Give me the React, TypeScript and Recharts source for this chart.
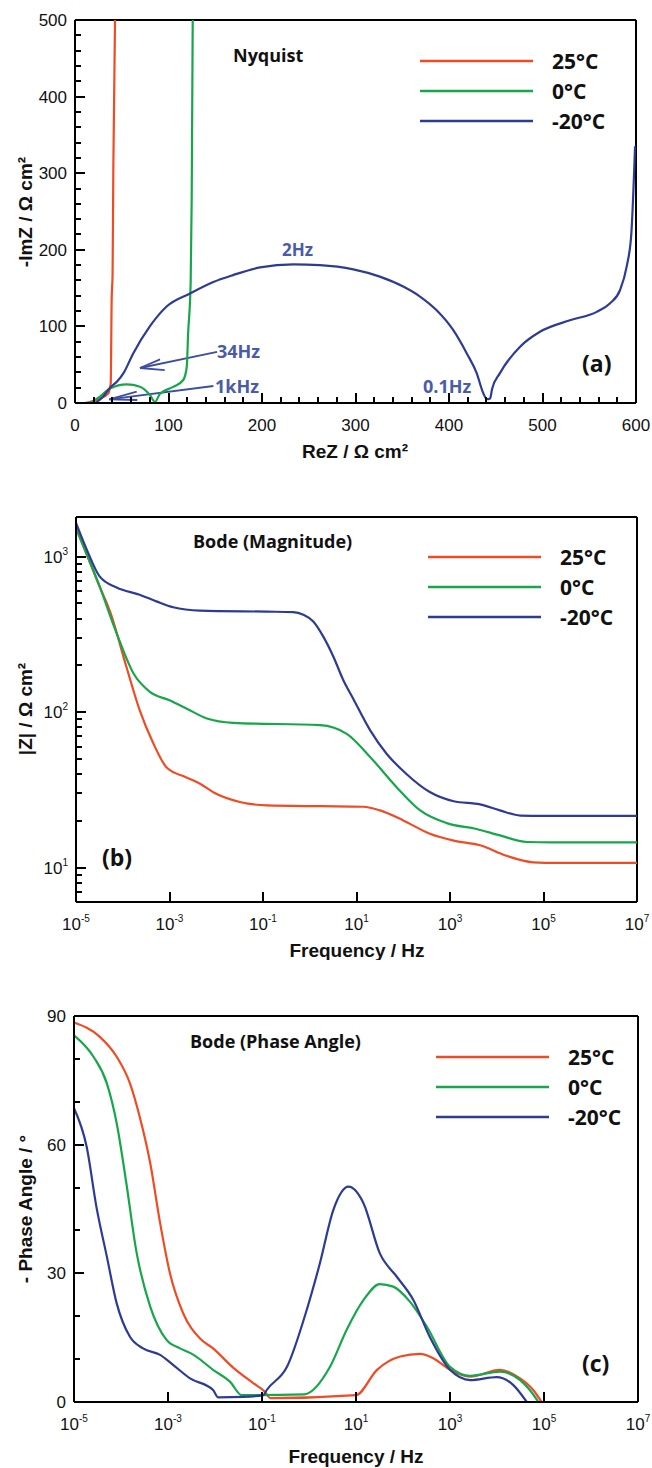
import React from "react";
import {
  LineChart,
  Line,
  XAxis,
  YAxis,
  ReferenceLine,
  Legend,
} from "recharts";

const RED = "#ef4b24";
const GREEN = "#17a74a";
const BLUE = "#2e3b93";
const NOTE = "#4a5ba8";
const INK = "#111111";
const TICK_FONT = "'Liberation Sans', Arial, sans-serif";
const NOTE_FONT = "'Open Sans', sans-serif";

const seriesNames = ["25°C", "0°C", "-20°C"];

// Nyquist: ReZ vs -ImZ, Ω cm²
const nyq25 = [
  { re: 10.5, im: 0 }, { re: 26.7, im: 6 }, { re: 35.6, im: 12.7 }, { re: 38.2, im: 25.7 },
  { re: 39.2, im: 134 }, { re: 40.2, im: 169 }, { re: 41, im: 308 }, { re: 42.8, im: 500 },
];
const nyq0 = [
  { re: 16, im: 0 }, { re: 26.7, im: 8.3 }, { re: 37.4, im: 19 }, { re: 55.3, im: 24.4 },
  { re: 69.5, im: 21.3 }, { re: 80.2, im: 10.4 }, { re: 85.5, im: 1.5 }, { re: 90.9, im: 12 },
  { re: 105, im: 21 }, { re: 115.8, im: 30 }, { re: 119.5, im: 47 }, { re: 121, im: 91 },
  { re: 123.7, im: 157 }, { re: 124.8, im: 265 }, { re: 125.9, im: 500 },
];
const nyqM20 = [
  { re: 22, im: 0 }, { re: 30, im: 8 }, { re: 37.4, im: 20 }, { re: 45, im: 28 },
  { re: 51.7, im: 38.7 }, { re: 62.4, im: 65 }, { re: 80, im: 100 }, { re: 98, im: 126 },
  { re: 123, im: 143 }, { re: 148, im: 158 }, { re: 169, im: 167 }, { re: 198, im: 177 },
  { re: 233.5, im: 181 }, { re: 262, im: 180 }, { re: 297.7, im: 174.5 }, { re: 326, im: 165 },
  { re: 351, im: 152 }, { re: 369, im: 139 }, { re: 386.8, im: 121 }, { re: 404.6, im: 95 },
  { re: 418.9, im: 65 }, { re: 429.6, im: 39 }, { re: 436.7, im: 12.7 }, { re: 440.5, im: 5 },
  { re: 444, im: 6 }, { re: 446, im: 18 }, { re: 454.5, im: 39 }, { re: 476, im: 73.5 },
  { re: 497.3, im: 93 }, { re: 529.4, im: 108 }, { re: 558, im: 119 }, { re: 572, im: 130 },
  { re: 583, im: 147.5 }, { re: 590, im: 178 }, { re: 595, im: 221 }, { re: 599, im: 335 },
];

// Bode magnitude: frequency (Hz) vs |Z| (Ω cm²)
const mag25 = [
  { f: 1e-5, z: 1530 }, { f: 3.2e-5, z: 643 }, { f: 5.4e-5, z: 440 }, { f: 1.2e-4, z: 195 },
  { f: 2.3e-4, z: 103 }, { f: 4.5e-4, z: 63 }, { f: 8.7e-4, z: 44 }, { f: 2.3e-3, z: 38 },
  { f: 4.5e-3, z: 34.6 }, { f: 0.01, z: 29.8 }, { f: 0.032, z: 26.4 }, { f: 0.12, z: 25.1 },
  { f: 1.66, z: 24.8 }, { f: 14, z: 24.6 }, { f: 32, z: 23.3 }, { f: 100, z: 20.1 },
  { f: 370, z: 16.5 }, { f: 1200, z: 14.9 }, { f: 4400, z: 13.9 }, { f: 16000, z: 11.9 },
  { f: 60000, z: 10.8 }, { f: 2e5, z: 10.7 }, { f: 1e7, z: 10.7 },
];
const mag0 = [
  { f: 1e-5, z: 1530 }, { f: 3.2e-5, z: 643 }, { f: 7.4e-5, z: 321 }, { f: 1.7e-4, z: 177 },
  { f: 3.8e-4, z: 135 }, { f: 1e-3, z: 119 }, { f: 2.3e-3, z: 105.5 }, { f: 6.3e-3, z: 91 },
  { f: 0.023, z: 85.3 }, { f: 1.66, z: 82.4 }, { f: 6.2, z: 72.4 }, { f: 19.5, z: 51.5 },
  { f: 72, z: 32.9 }, { f: 230, z: 23.3 }, { f: 850, z: 19.3 }, { f: 3700, z: 17.7 },
  { f: 11700, z: 16.1 }, { f: 44000, z: 14.6 }, { f: 1.6e5, z: 14.5 }, { f: 1e7, z: 14.5 },
];
const magM20 = [
  { f: 1e-5, z: 1650 }, { f: 1.7e-5, z: 1110 }, { f: 3.2e-5, z: 746 }, { f: 7.4e-5, z: 633 },
  { f: 2.3e-4, z: 569 }, { f: 5.4e-4, z: 514 }, { f: 1.2e-3, z: 473 }, { f: 4.5e-3, z: 450 },
  { f: 0.12, z: 443 }, { f: 0.44, z: 440 }, { f: 0.73, z: 423 }, { f: 1.19, z: 383 },
  { f: 1.95, z: 306 }, { f: 3.19, z: 228 }, { f: 5.2, z: 161 }, { f: 8.5, z: 122 },
  { f: 19.5, z: 76.6 }, { f: 44, z: 54 }, { f: 117, z: 40 }, { f: 370, z: 30.6 },
  { f: 1200, z: 26.7 }, { f: 4400, z: 25.5 }, { f: 11700, z: 23.3 }, { f: 32000, z: 21.6 },
  { f: 1e5, z: 21.5 }, { f: 1e7, z: 21.5 },
];

// Bode phase: frequency (Hz) vs -phase (°)
const ph25 = [
  { f: 1e-5, p: 88.5 }, { f: 3.5e-5, p: 85.2 }, { f: 8.1e-5, p: 80.5 }, { f: 1.55e-4, p: 74.3 },
  { f: 2.5e-4, p: 66.5 }, { f: 4.2e-4, p: 55.6 }, { f: 6.8e-4, p: 41.7 }, { f: 1.1e-3, p: 30 },
  { f: 2.1e-3, p: 20.7 }, { f: 4.8e-3, p: 14.8 }, { f: 9.1e-3, p: 12.5 }, { f: 0.025, p: 7.9 },
  { f: 0.065, p: 4.4 }, { f: 0.115, p: 2.4 }, { f: 0.15, p: 0.9 }, { f: 10, p: 1.6 },
  { f: 28, p: 7.5 }, { f: 87, p: 10.6 }, { f: 230, p: 11.2 }, { f: 440, p: 10.2 },
  { f: 1000, p: 7.5 }, { f: 2700, p: 5.9 }, { f: 11500, p: 7.5 }, { f: 31000, p: 5.5 },
  { f: 59000, p: 2.8 }, { f: 89000, p: 0 },
];
const ph0 = [
  { f: 1e-5, p: 85.5 }, { f: 2.6e-5, p: 80.5 }, { f: 5e-5, p: 74.3 }, { f: 8.1e-5, p: 65 },
  { f: 1.3e-4, p: 51 }, { f: 2.1e-4, p: 35.4 }, { f: 4.2e-4, p: 22.2 }, { f: 9.3e-4, p: 14.5 },
  { f: 1.8e-3, p: 12.5 }, { f: 3.5e-3, p: 11 }, { f: 9.1e-3, p: 7.5 }, { f: 0.021, p: 4.7 },
  { f: 0.037, p: 1.6 }, { f: 0.8, p: 1.8 }, { f: 2.8, p: 8.2 }, { f: 6.3, p: 16.8 },
  { f: 14.5, p: 23.8 }, { f: 32, p: 27.5 }, { f: 62, p: 26.9 }, { f: 140, p: 23.4 },
  { f: 320, p: 17.6 }, { f: 1000, p: 8.2 }, { f: 2700, p: 6.1 }, { f: 11500, p: 7.1 },
  { f: 31000, p: 5.1 }, { f: 50000, p: 2.8 }, { f: 76000, p: 0 },
];
const phM20 = [
  { f: 1e-5, p: 68.5 }, { f: 1.86e-5, p: 59.5 }, { f: 3e-5, p: 45.5 }, { f: 5e-5, p: 33.9 },
  { f: 8.1e-5, p: 23 }, { f: 1.55e-4, p: 15.2 }, { f: 2.95e-4, p: 12.5 }, { f: 6.8e-4, p: 11 },
  { f: 1.3e-3, p: 8.6 }, { f: 2.95e-3, p: 5.5 }, { f: 9.1e-3, p: 2.8 }, { f: 0.0117, p: 1.1 },
  { f: 0.04, p: 1.2 }, { f: 0.107, p: 1.6 }, { f: 0.126, p: 2.8 }, { f: 0.34, p: 8.2 },
  { f: 0.89, p: 21.4 }, { f: 1.7, p: 32.3 }, { f: 3.3, p: 44.8 }, { f: 6.9, p: 50.2 },
  { f: 14.5, p: 46.3 }, { f: 32, p: 34.7 }, { f: 74, p: 29.2 }, { f: 166, p: 23.8 },
  { f: 370, p: 15.2 }, { f: 1000, p: 7.5 }, { f: 2700, p: 5.1 }, { f: 9800, p: 5.8 },
  { f: 22000, p: 4 }, { f: 43000, p: 0 },
];

// ticks
const nyqXMajor = [0, 100, 200, 300, 400, 500, 600];
const nyqYMajor = [0, 100, 200, 300, 400, 500];
const freqTicks = [1e-5, 1e-3, 1e-1, 1e1, 1e3, 1e5, 1e7];
const magMajor = [10, 100, 1000];
const phaseMajor = [0, 30, 60, 90];

const withMinor = (majors: number[], parts: number) => {
  const out: number[] = [];
  majors.forEach((m, i) => {
    out.push(m);
    if (i < majors.length - 1) {
      const step = (majors[i + 1] - m) / parts;
      for (let k = 1; k < parts; k++) out.push(m + k * step);
    }
  });
  return out;
};
const magTicks = [1, 10, 100, 1000]
  .flatMap((d) => [1, 2, 3, 4, 5, 6, 7, 8, 9].map((m) => m * d))
  .filter((v) => v >= 6 && v <= 1800);

const pow10 = (v: number) => {
  const e = Math.round(Math.log10(v));
  return (
    <>
      10
      <tspan dy={-8} fontSize={10}>
        {e}
      </tspan>
    </>
  );
};
const plain = (v: number) => String(v);

const isMajor = (majors: number[], v: number) =>
  majors.some((m) => Math.abs(m - v) < 1e-9 * Math.max(1, Math.abs(m)));

const bottomLabel = (fmt: (v: number) => React.ReactNode) => (p: any) => (
  <text x={p.x} y={p.y + 28} textAnchor="middle" fontSize={17} fontFamily={TICK_FONT} fill={INK}>
    {fmt(p.payload.value)}
  </text>
);
const leftLabel = (fmt: (v: number) => React.ReactNode) => (p: any) => (
  <text x={p.x - 8} y={p.y + 6} textAnchor="end" fontSize={17} fontFamily={TICK_FONT} fill={INK}>
    {fmt(p.payload.value)}
  </text>
);

// plot boxes (panel-local px) shared by chart margins and the tick overlay
type Box = { left: number; right: number; top: number; bottom: number; h: number };
const boxA: Box = { left: 75, right: 636, top: 20, bottom: 403, h: 470 };
const boxB: Box = { left: 76, right: 637, top: 27, bottom: 412, h: 470 };
const boxC: Box = { left: 74, right: 638, top: 26, bottom: 412, h: 478 };

const lin = (d0: number, d1: number, r0: number, r1: number) => (v: number) =>
  r0 + ((v - d0) / (d1 - d0)) * (r1 - r0);
const logm = (d0: number, d1: number, r0: number, r1: number) => (v: number) =>
  r0 + ((Math.log10(v) - Math.log10(d0)) / (Math.log10(d1) - Math.log10(d0))) * (r1 - r0);

// inward tick marks along the bottom and left axes, as filled rects
const TickMarks = ({
  box, xs, xMaj, xMap, ys, yMaj, yMap,
}: {
  box: Box; xs: number[]; xMaj: number[]; xMap: (v: number) => number;
  ys: number[]; yMaj: number[]; yMap: (v: number) => number;
}) => (
  <g fill="#000" shapeRendering="crispEdges">
    {xs.map((v) => {
      const px = Math.round(xMap(v));
      const len = isMajor(xMaj, v) ? 10 : 6;
      return <rect key={`x${v}`} x={px - 1} y={box.bottom - len} width={2} height={len} />;
    })}
    {ys.map((v) => {
      const py = Math.round(yMap(v));
      const len = isMajor(yMaj, v) ? 10 : 6;
      return <rect key={`y${v}`} x={box.left} y={py - 1} width={len} height={2} />;
    })}
  </g>
);

const LegendBox = ({ payload }: any) => {
  const rows = [...(payload ?? [])].sort(
    (a: any, b: any) => seriesNames.indexOf(a.value) - seriesNames.indexOf(b.value)
  );
  return (
    <svg width={230} height={95}>
      {rows.map((e: any, i: number) => (
        <g key={i}>
          <line x1={0} x2={113} y1={15 + i * 30} y2={15 + i * 30} stroke={e.color} strokeWidth={2.5} />
          <text x={132} y={23 + i * 30} fontSize={21} fontWeight={700} fontFamily={NOTE_FONT} fill={INK}>
            {e.value}
          </text>
        </g>
      ))}
    </svg>
  );
};

const Overlay = ({ h, children }: { h: number; children: React.ReactNode }) => (
  <svg
    width={652}
    height={h}
    style={{ position: "absolute", left: 0, top: 0, pointerEvents: "none", zIndex: 2 }}
  >
    {children}
  </svg>
);

const YTitle = ({ x, y, text }: { x: number; y: number; text: string }) => (
  <text
    x={x}
    y={y}
    transform={`rotate(-90 ${x} ${y})`}
    textAnchor="middle"
    fontSize={19}
    fontWeight={700}
    fontFamily={TICK_FONT}
    fill={INK}
  >
    {text}
  </text>
);

const XTitle = ({ x, y, text }: { x: number; y: number; text: string }) => (
  <text x={x} y={y} textAnchor="middle" fontSize={19} fontWeight={700} fontFamily={TICK_FONT} fill={INK}>
    {text}
  </text>
);

const Note = ({ x, y, text, size = 18, color = NOTE }: any) => (
  <text x={x} y={y} fontSize={size} fontWeight={700} fontFamily={NOTE_FONT} fill={color}>
    {text}
  </text>
);

// arrows in data units (ReZ, -ImZ)
const arrow34 = [
  [{ x: 152, y: 66.6 }, { x: 69.5, y: 45.7 }],
  [{ x: 69.5, y: 45.7 }, { x: 91, y: 57 }],
  [{ x: 69.5, y: 45.7 }, { x: 96, y: 43 }],
];
const arrow1k = [
  [{ x: 148, y: 22.2 }, { x: 36.7, y: 4.8 }],
  [{ x: 36.7, y: 4.8 }, { x: 66, y: 14.8 }],
  [{ x: 36.7, y: 4.8 }, { x: 66.6, y: 3.9 }],
];

const lineProps = {
  type: "monotone" as const,
  strokeWidth: 2.2,
  dot: false,
  activeDot: false,
  isAnimationActive: false,
};

const axisCommon = {
  type: "number" as const,
  interval: 0 as const,
  axisLine: { stroke: "#000", strokeWidth: 2 },
  tickLine: false,
  tickSize: 0,
  tickMargin: 0,
};

const marginOf = (b: Box) => ({ top: b.top, right: 652 - b.right, left: 0, bottom: 0 });

const NyquistPanel = () => (
  <div style={{ position: "absolute", left: 0, top: 0, width: 652, height: boxA.h }}>
    <LineChart width={652} height={boxA.h} margin={marginOf(boxA)}>
      <XAxis
        {...axisCommon}
        dataKey="re"
        domain={[0, 600]}
        ticks={nyqXMajor}
        height={boxA.h - boxA.bottom}
        tick={bottomLabel(plain)}
      />
      <YAxis
        {...axisCommon}
        dataKey="im"
        domain={[0, 500]}
        ticks={nyqYMajor}
        width={boxA.left}
        tick={leftLabel(plain)}
      />
      <ReferenceLine x={600} stroke="#000" strokeWidth={2} ifOverflow="visible" />
      <ReferenceLine y={500} stroke="#000" strokeWidth={2} ifOverflow="visible" />
      {[...arrow34, ...arrow1k].map((s, i) => (
        <ReferenceLine key={i} segment={s} stroke="#3d4ea2" strokeWidth={1.8} ifOverflow="visible" />
      ))}
      <Line {...lineProps} data={nyq25} dataKey="im" name={seriesNames[0]} stroke={RED} />
      <Line {...lineProps} data={nyq0} dataKey="im" name={seriesNames[1]} stroke={GREEN} />
      <Line {...lineProps} data={nyqM20} dataKey="im" name={seriesNames[2]} stroke={BLUE} />
      <Legend
        layout="horizontal"
        verticalAlign="middle"
        align="center"
        content={<LegendBox />}
        wrapperStyle={{ position: "absolute", left: 420, top: 46, width: 230, height: 95 }}
      />
    </LineChart>
    <Overlay h={boxA.h}>
      <TickMarks
        box={boxA}
        xs={withMinor(nyqXMajor, 5)}
        xMaj={nyqXMajor}
        xMap={lin(0, 600, boxA.left, boxA.right)}
        ys={withMinor(nyqYMajor, 5)}
        yMaj={nyqYMajor}
        yMap={lin(0, 500, boxA.bottom, boxA.top)}
      />
      <Note x={233} y={62} text="Nyquist" size={18} color={INK} />
      <Note x={282} y={256} text="2Hz" size={17} />
      <Note x={217} y={358} text="34Hz" />
      <Note x={215} y={393} text="1kHz" />
      <Note x={423} y={393} text="0.1Hz" />
      <Note x={582} y={372} text="(a)" size={23} color={INK} />
      <YTitle x={32} y={212} text="-ImZ / Ω cm²" />
      <XTitle x={355} y={458} text="ReZ / Ω cm²" />
    </Overlay>
  </div>
);

const MagnitudePanel = () => (
  <div style={{ position: "absolute", left: 0, top: 490, width: 652, height: boxB.h }}>
    <LineChart width={652} height={boxB.h} margin={marginOf(boxB)}>
      <XAxis
        {...axisCommon}
        dataKey="f"
        scale="log"
        domain={[1e-5, 1e7]}
        ticks={freqTicks}
        height={boxB.h - boxB.bottom}
        tick={bottomLabel(pow10)}
      />
      <YAxis
        {...axisCommon}
        dataKey="z"
        scale="log"
        domain={[6, 1800]}
        ticks={magMajor}
        width={boxB.left}
        tick={leftLabel(pow10)}
      />
      <ReferenceLine x={1e7} stroke="#000" strokeWidth={2} ifOverflow="visible" />
      <ReferenceLine y={1800} stroke="#000" strokeWidth={2} ifOverflow="visible" />
      <Line {...lineProps} data={mag25} dataKey="z" name={seriesNames[0]} stroke={RED} />
      <Line {...lineProps} data={mag0} dataKey="z" name={seriesNames[1]} stroke={GREEN} />
      <Line {...lineProps} data={magM20} dataKey="z" name={seriesNames[2]} stroke={BLUE} />
      <Legend
        layout="horizontal"
        verticalAlign="middle"
        align="center"
        content={<LegendBox />}
        wrapperStyle={{ position: "absolute", left: 428, top: 52, width: 230, height: 95 }}
      />
    </LineChart>
    <Overlay h={boxB.h}>
      <TickMarks
        box={boxB}
        xs={freqTicks}
        xMaj={freqTicks}
        xMap={logm(1e-5, 1e7, boxB.left, boxB.right)}
        ys={magTicks}
        yMaj={magMajor}
        yMap={logm(6, 1800, boxB.bottom, boxB.top)}
      />
      <Note x={193} y={58} text="Bode (Magnitude)" size={18} color={INK} />
      <Note x={102} y={376} text="(b)" size={23} color={INK} />
      <YTitle x={32} y={219} text="|Z| / Ω cm²" />
      <XTitle x={357} y={467} text="Frequency / Hz" />
    </Overlay>
  </div>
);

const PhasePanel = () => (
  <div style={{ position: "absolute", left: 0, top: 990, width: 652, height: boxC.h }}>
    <LineChart width={652} height={boxC.h} margin={marginOf(boxC)}>
      <XAxis
        {...axisCommon}
        dataKey="f"
        scale="log"
        domain={[1e-5, 1e7]}
        ticks={freqTicks}
        height={boxC.h - boxC.bottom}
        tick={bottomLabel(pow10)}
      />
      <YAxis
        {...axisCommon}
        dataKey="p"
        domain={[0, 90]}
        ticks={phaseMajor}
        width={boxC.left}
        tick={leftLabel(plain)}
      />
      <ReferenceLine x={1e7} stroke="#000" strokeWidth={2} ifOverflow="visible" />
      <ReferenceLine y={90} stroke="#000" strokeWidth={2} ifOverflow="visible" />
      <Line {...lineProps} data={ph25} dataKey="p" name={seriesNames[0]} stroke={RED} />
      <Line {...lineProps} data={ph0} dataKey="p" name={seriesNames[1]} stroke={GREEN} />
      <Line {...lineProps} data={phM20} dataKey="p" name={seriesNames[2]} stroke={BLUE} />
      <Legend
        layout="horizontal"
        verticalAlign="middle"
        align="center"
        content={<LegendBox />}
        wrapperStyle={{ position: "absolute", left: 436, top: 52, width: 230, height: 95 }}
      />
    </LineChart>
    <Overlay h={boxC.h}>
      <TickMarks
        box={boxC}
        xs={freqTicks}
        xMaj={freqTicks}
        xMap={logm(1e-5, 1e7, boxC.left, boxC.right)}
        ys={withMinor(phaseMajor, 3)}
        yMaj={phaseMajor}
        yMap={lin(0, 90, boxC.bottom, boxC.top)}
      />
      <Note x={190} y={58} text="Bode (Phase Angle)" size={18} color={INK} />
      <Note x={582} y={382} text="(c)" size={23} color={INK} />
      <YTitle x={32} y={219} text="- Phase Angle / °" />
      <XTitle x={356} y={473} text="Frequency / Hz" />
    </Overlay>
  </div>
);

export default function App() {
  return (
    <div
      style={{
        position: "absolute",
        left: 0,
        top: 0,
        width: 652,
        height: 1468,
        background: "#fff",
        overflow: "hidden",
      }}
    >
      <NyquistPanel />
      <MagnitudePanel />
      <PhasePanel />
    </div>
  );
}
